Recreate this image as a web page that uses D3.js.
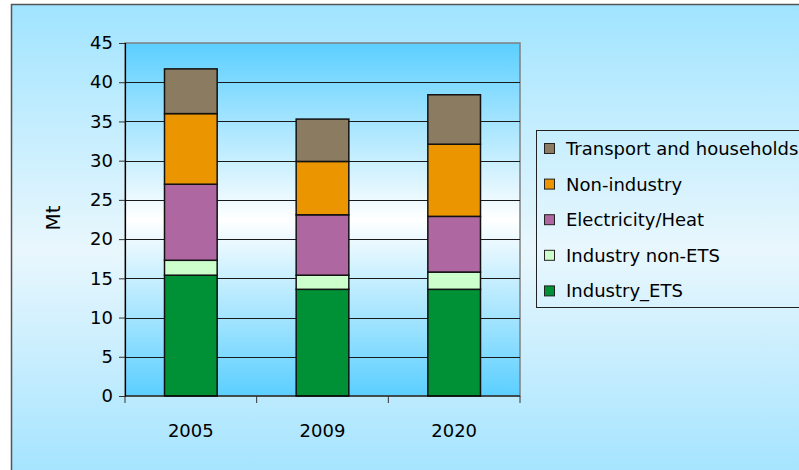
<!DOCTYPE html>
<html>
<head>
<meta charset="utf-8">
<script src="https://cdn.jsdelivr.net/npm/d3@7"></script>
<style>
  body { margin: 0; background: #fff; }
  svg { display: block; font-family: "DejaVu Sans", sans-serif; }
</style>
</head>
<body>
<div id="chart"></div>
<script>
// Data
const years = ['2005', '2009', '2020'];
const seriesNames = ['Industry_ETS', 'Industry non-ETS', 'Electricity/Heat', 'Non-industry', 'Transport and households'];
const industryETS = [15.4, 13.6, 13.6];
const industryNonETS = [1.9, 1.8, 2.2];
const electricityHeat = [9.7, 7.7, 7.1];
const nonIndustry = [9.0, 6.8, 9.2];
const transportHouseholds = [5.7, 5.4, 6.3];
const yTicks = [0, 5, 10, 15, 20, 25, 30, 35, 40, 45];
const colors = ['#009035', '#ccffcc', '#ae67a0', '#eb9500', '#8b7b60'];

const width = 799, height = 470;
const plot = { left: 125, top: 43, right: 520, bottom: 396 };

// Build rows for the stack
const table = years.map((yr, i) => ({
    year: yr,
    'Industry_ETS': industryETS[i],
    'Industry non-ETS': industryNonETS[i],
    'Electricity/Heat': electricityHeat[i],
    'Non-industry': nonIndustry[i],
    'Transport and households': transportHouseholds[i]
}));
const stacked = d3.stack().keys(seriesNames)(table);

const svg = d3.select('#chart').append('svg')
    .attr('width', width)
    .attr('height', height);

const defs = svg.append('defs');
const outerGrad = defs.append('linearGradient')
    .attr('id', 'outerGrad').attr('x1', 0).attr('y1', 0).attr('x2', 0).attr('y2', 1);
outerGrad.append('stop').attr('offset', '0%').attr('stop-color', '#a0e4ff');
outerGrad.append('stop').attr('offset', '50%').attr('stop-color', '#e9f7fd');
outerGrad.append('stop').attr('offset', '100%').attr('stop-color', '#9ee2ff');

const plotGrad = defs.append('linearGradient')
    .attr('id', 'plotGrad').attr('x1', 0).attr('y1', 0).attr('x2', 0).attr('y2', 1);
plotGrad.append('stop').attr('offset', '0%').attr('stop-color', '#5bcfff');
plotGrad.append('stop').attr('offset', '50%').attr('stop-color', '#ffffff');
plotGrad.append('stop').attr('offset', '100%').attr('stop-color', '#5bcfff');

// Chart background + frame
svg.append('rect')
    .attr('x', 11.5).attr('y', 4.5)
    .attr('width', width + 20).attr('height', height + 20)
    .attr('fill', 'url(#outerGrad)')
    .attr('stroke', '#555')
    .attr('stroke-width', 1.5);

// Scales
const x = d3.scaleBand()
    .domain(years)
    .range([plot.left, plot.right])
    .padding(0);

const y = d3.scaleLinear()
    .domain([0, 45])
    .range([plot.bottom, plot.top]);

// Plot area
svg.append('rect')
    .attr('x', plot.left).attr('y', plot.top)
    .attr('width', plot.right - plot.left).attr('height', plot.bottom - plot.top)
    .attr('fill', 'url(#plotGrad)')
    .attr('stroke', '#808080')
    .attr('stroke-width', 1.5);

// Gridlines
svg.append('g')
    .selectAll('line')
    .data(yTicks.filter(t => t > 0 && t < 45))
    .enter().append('line')
    .attr('x1', plot.left).attr('x2', plot.right)
    .attr('y1', d => Math.round(y(d)) + 0.5)
    .attr('y2', d => Math.round(y(d)) + 0.5)
    .attr('stroke', '#1a1a1a')
    .attr('stroke-width', 1);

// Bars
const bw = x.bandwidth() * 0.4;
svg.append('g')
    .selectAll('g')
    .data(stacked)
    .enter().append('g')
    .attr('fill', (d, i) => colors[i])
    .selectAll('rect')
    .data(d => d)
    .enter().append('rect')
    .attr('x', d => x(d.data.year) + (x.bandwidth() - bw) / 2)
    .attr('width', bw)
    .attr('y', d => y(d[1]))
    .attr('height', d => y(d[0]) - y(d[1]))
    .attr('stroke', '#111')
    .attr('stroke-width', 1.5);

// Y axis
const yAxis = svg.append('g')
    .attr('transform', 'translate(' + plot.left + ',0)')
    .call(d3.axisLeft(y).tickValues(yTicks).tickSize(6).tickPadding(6));
yAxis.select('.domain').attr('stroke', '#000').attr('stroke-width', 1.2);
yAxis.selectAll('.tick line').attr('stroke', '#333');
yAxis.selectAll('text')
    .attr('font-size', '18px')
    .attr('font-family', '"DejaVu Sans", sans-serif')
    .attr('fill', '#000');

// X axis (ticks at category boundaries)
const xAxis = svg.append('g')
    .attr('transform', 'translate(0,' + plot.bottom + ')');
xAxis.append('line')
    .attr('x1', plot.left).attr('x2', plot.right)
    .attr('stroke', '#000').attr('stroke-width', 1.2);
xAxis.selectAll('.bound')
    .data(years.map(d => x(d)).concat([x(years[years.length - 1]) + x.bandwidth()]))
    .enter().append('line')
    .attr('class', 'bound')
    .attr('x1', d => d).attr('x2', d => d)
    .attr('y1', 0).attr('y2', 7)
    .attr('stroke', '#333');
xAxis.selectAll('text')
    .data(years)
    .enter().append('text')
    .attr('x', d => x(d) + x.bandwidth() / 2)
    .attr('y', 41)
    .attr('text-anchor', 'middle')
    .attr('font-size', '18px')
    .attr('fill', '#000')
    .text(d => d);

// Y axis title
svg.append('text')
    .attr('transform', 'translate(60,218) rotate(-90)')
    .attr('text-anchor', 'middle')
    .attr('font-size', '20px')
    .attr('fill', '#000')
    .text('Mt');

// Legend
const legend = svg.append('g');
legend.append('rect')
    .attr('x', 536.5).attr('y', 130.5)
    .attr('width', 300).attr('height', 177)
    .attr('fill', 'none')
    .attr('stroke', '#222')
    .attr('stroke-width', 1);

const legendOrder = seriesNames.slice().reverse();
const items = legend.selectAll('.item')
    .data(legendOrder)
    .enter().append('g')
    .attr('class', 'item')
    .attr('transform', (d, i) => 'translate(0,' + (148.5 + i * 35.6) + ')');
items.append('rect')
    .attr('x', 544.5).attr('y', -5)
    .attr('width', 10).attr('height', 10)
    .attr('fill', d => colors[seriesNames.indexOf(d)])
    .attr('stroke', '#222')
    .attr('stroke-width', 1);
items.append('text')
    .attr('x', 566)
    .attr('y', 6.5)
    .attr('font-size', '18px')
    .attr('fill', '#000')
    .text(d => d);
</script>
</body>
</html>
